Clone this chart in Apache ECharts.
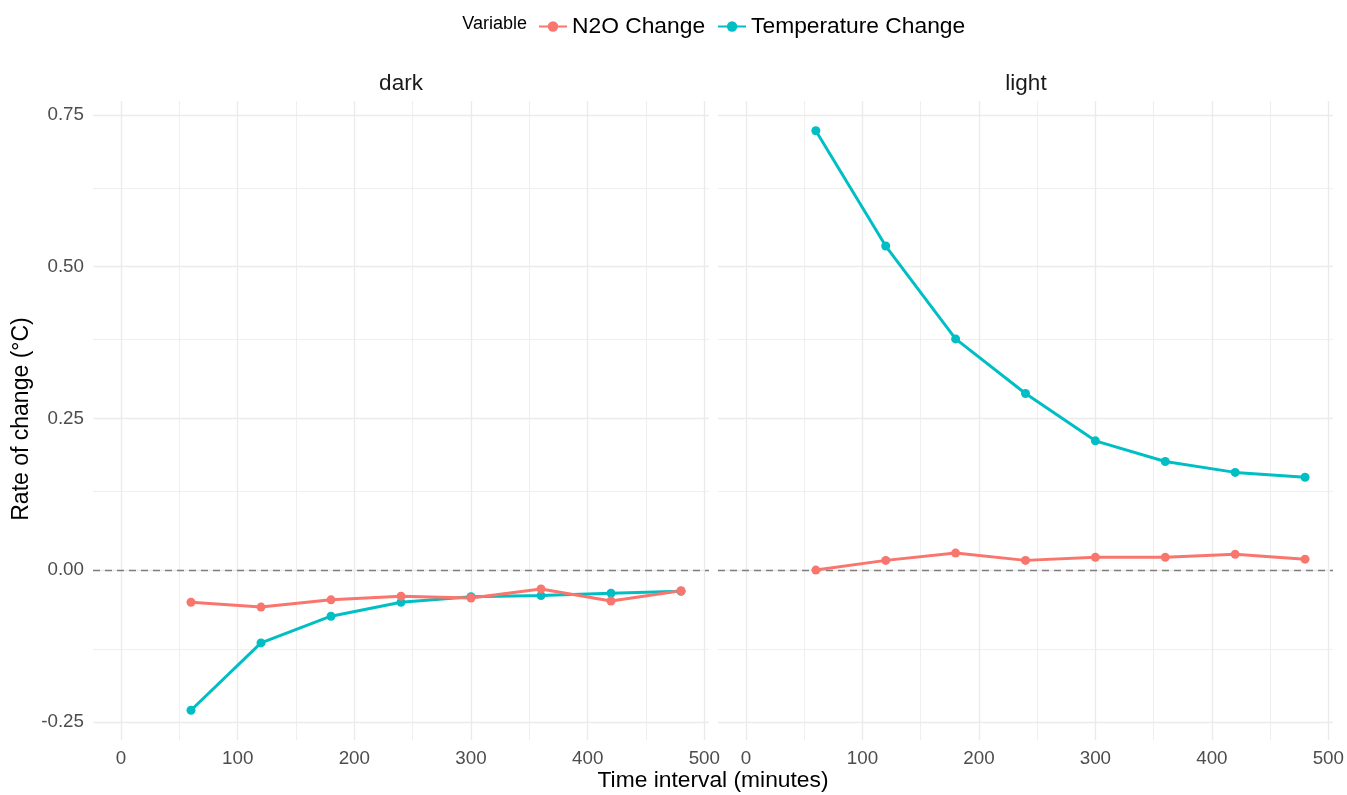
<!DOCTYPE html>
<html>
<head>
<meta charset="utf-8">
<script src="https://cdn.jsdelivr.net/npm/echarts@6/dist/echarts.min.js"></script>
<style>
html,body{margin:0;padding:0;background:#fff;}
#chart{width:1347px;height:795px;}
</style>
</head>
<body>
<div id="chart"></div>
<script>
const timeMinutes = [60, 120, 180, 240, 300, 360, 420, 480];
const darkN2O   = [-0.053, -0.061, -0.049, -0.043, -0.046, -0.031, -0.051, -0.034];
const darkTemp  = [-0.231, -0.120, -0.076, -0.053, -0.044, -0.042, -0.038, -0.035];
const lightN2O  = [0.000, 0.016, 0.028, 0.016, 0.021, 0.021, 0.026, 0.018];
const lightTemp = [0.724, 0.534, 0.381, 0.291, 0.213, 0.179, 0.161, 0.153];
const panels = ['dark', 'light'];
const seriesNames = ['N2O Change', 'Temperature Change'];
const xTicks = [0, 100, 200, 300, 400, 500];
const xMinor = [50, 150, 250, 350, 450];
const yTicks = [-0.25, 0, 0.25, 0.5, 0.75];
const yMinor = [-0.125, 0.125, 0.375, 0.625];

const COLORS = ['#F8766D', '#00BFC4'];
const FONT = 'Liberation Sans, Arial, sans-serif';
const pair = arr => timeMinutes.map((t, i) => [t, arr[i]]);

const gridDefs = [
  {left: 93, top: 101, width: 616, height: 639},
  {left: 718, top: 101, width: 616, height: 639}
];

function gridLinesSeries(idx) {
  const data = [];
  xTicks.forEach(v => data.push({xAxis: v, lineStyle: {width: 1.4, color: '#EBEBEB', type: 'solid'}}));
  xMinor.forEach(v => data.push({xAxis: v, lineStyle: {width: 0.8, color: '#EBEBEB', type: 'solid'}}));
  yTicks.forEach(v => data.push({yAxis: v, lineStyle: {width: 1.4, color: '#EBEBEB', type: 'solid'}}));
  yMinor.forEach(v => data.push({yAxis: v, lineStyle: {width: 0.8, color: '#EBEBEB', type: 'solid'}}));
  return {
    type: 'line', name: 'grid' + idx, xAxisIndex: idx, yAxisIndex: idx,
    data: [], silent: true, z: 1,
    markLine: {z: 1, symbol: 'none', silent: true, animation: false, label: {show: false},
      emphasis: {disabled: true}, data: data}
  };
}
function zeroSeries(idx) {
  return {
    type: 'line', name: 'zero' + idx, xAxisIndex: idx, yAxisIndex: idx,
    data: [], silent: true, z: 2,
    markLine: {z: 2, symbol: 'none', silent: true, animation: false, label: {show: false},
      emphasis: {disabled: true},
      data: [{yAxis: 0, lineStyle: {width: 1.4, color: '#7F7F7F', type: [7, 5]}}]}
  };
}
function dataSeries(idx, name, vals, color) {
  return {
    type: 'line', name: name, xAxisIndex: idx, yAxisIndex: idx,
    data: pair(vals), z: 3, symbol: 'circle', symbolSize: 9,
    itemStyle: {color: color, borderWidth: 0},
    lineStyle: {width: 3, color: color},
    emphasis: {disabled: true}, animation: false
  };
}

const option = {
  backgroundColor: '#ffffff',
  animation: false,
  textStyle: {fontFamily: FONT},
  legend: {
    data: seriesNames, left: 533, top: 10, itemWidth: 28, itemHeight: 13, itemGap: 12,
    textStyle: {fontSize: 22.8, color: '#000000', fontFamily: FONT}
  },
  grid: gridDefs,
  xAxis: gridDefs.map((g, i) => ({
    type: 'value', gridIndex: i, min: -24, max: 504,
    axisLine: {show: false}, axisTick: {show: false}, splitLine: {show: false},
    axisLabel: {customValues: xTicks, color: '#4D4D4D', fontSize: 18.8, margin: 9, fontFamily: FONT}
  })),
  yAxis: gridDefs.map((g, i) => ({
    type: 'value', gridIndex: i, min: -0.28, max: 0.773,
    axisLine: {show: false}, axisTick: {show: false}, splitLine: {show: false},
    axisLabel: {show: i === 0, customValues: yTicks, color: '#4D4D4D', fontSize: 18.8, margin: 9,
      fontFamily: FONT, formatter: v => v.toFixed(2)}
  })),
  graphic: [
    {type: 'text', x: 401, y: 84, style: {text: panels[0], align: 'center', verticalAlign: 'middle',
      fontSize: 22.5, fill: '#1A1A1A', fontFamily: FONT}},
    {type: 'text', x: 1026, y: 84, style: {text: panels[1], align: 'center', verticalAlign: 'middle',
      fontSize: 22.5, fill: '#1A1A1A', fontFamily: FONT}},
    {type: 'text', x: 713, y: 781, style: {text: 'Time interval (minutes)', align: 'center', verticalAlign: 'middle',
      fontSize: 22.8, fill: '#000000', fontFamily: FONT}},
    {type: 'text', x: 22, y: 419, rotation: Math.PI / 2, style: {text: 'Rate of change (°C)', align: 'center', verticalAlign: 'middle',
      fontSize: 23, fill: '#000000', fontFamily: FONT}},
    {type: 'text', x: 527, y: 24, style: {text: 'Variable', align: 'right', verticalAlign: 'middle',
      fontSize: 18, fill: '#000000', fontFamily: FONT}}
  ],
  series: [
    gridLinesSeries(0), gridLinesSeries(1), zeroSeries(0), zeroSeries(1),
    dataSeries(0, seriesNames[1], darkTemp, COLORS[1]),
    dataSeries(0, seriesNames[0], darkN2O, COLORS[0]),
    dataSeries(1, seriesNames[0], lightN2O, COLORS[0]),
    dataSeries(1, seriesNames[1], lightTemp, COLORS[1])
  ]
};
const chart = echarts.init(document.getElementById('chart'), null, {renderer: 'canvas'});
chart.setOption(option);
</script>
</body>
</html>
